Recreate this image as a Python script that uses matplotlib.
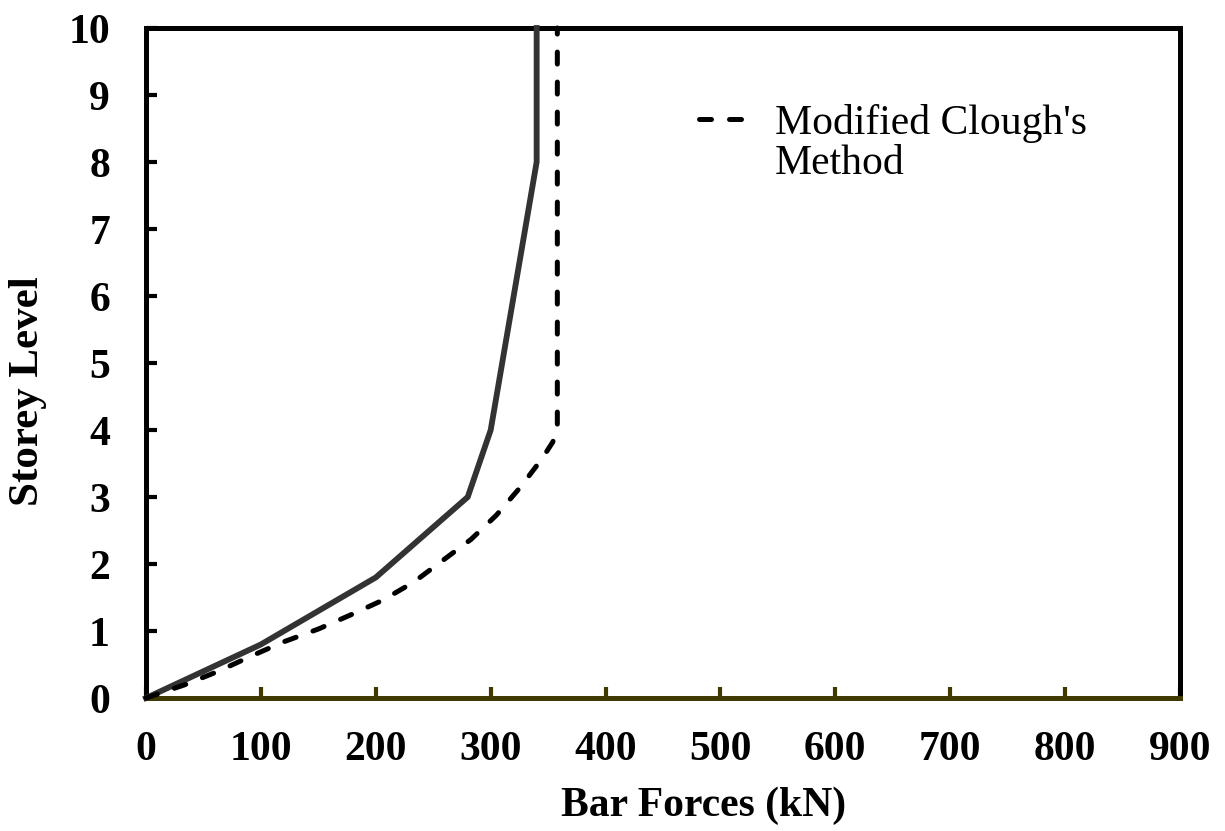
import matplotlib
matplotlib.use("Agg")
import matplotlib.pyplot as plt
from matplotlib.lines import Line2D

# solid curve (no legend entry)
solid_x = [0, 100, 200, 280, 300, 340, 340]
solid_y = [0, 0.8, 1.8, 3.0, 4.0, 8.0, 10.0]

# Modified Clough's Method (dashed)
clough_x = [0, 34, 63, 92, 120, 150, 178, 206, 233, 258, 283, 305, 326, 345, 354, 358, 358]
clough_y = [0, 0.2, 0.4, 0.63, 0.84, 1.03, 1.24, 1.46, 1.73, 2.05, 2.37, 2.73, 3.15, 3.58, 3.82, 4.0, 10.0]

xticks = list(range(0, 901, 100))
yticks = list(range(0, 11))

plt.rcParams['font.family'] = ['Liberation Serif', 'DejaVu Serif']

fig = plt.figure(figsize=(12.25, 8.31), dpi=100)
ax = fig.add_axes([0.1192, 0.160, 0.8441, 0.8063])

ax.plot(solid_x, solid_y, color='#333333', lw=4.2, solid_joinstyle='miter',
        clip_on=False, zorder=5)
ax.plot(clough_x, clough_y, color='black', lw=3.6, ls=(0, (2.4, 3.6)),
        dash_capstyle='round', clip_on=False, zorder=6)

ax.set_xlim(0, 900)
ax.set_ylim(0, 10)
ax.set_xticks(xticks)
ax.set_yticks(yticks)

for s in ['left', 'right', 'top']:
    ax.spines[s].set_linewidth(3.6)
    ax.spines[s].set_color('black')
ax.spines['bottom'].set_linewidth(3.6)
ax.spines['bottom'].set_color('#3f3b00')

ax.tick_params(axis='x', direction='in', length=8, width=3, color='#3f3b00',
               pad=24, labelsize=30)
ax.tick_params(axis='y', direction='in', length=8, width=3, color='black',
               pad=26, labelsize=30)
for lab in ax.get_xticklabels() + ax.get_yticklabels():
    lab.set_fontweight('bold')

ax.set_xlabel('Bar Forces (kN)', fontsize=30, fontweight='bold')
ax.set_ylabel('Storey Level', fontsize=31, fontweight='bold')
ax.xaxis.label.set_va('center')
ax.yaxis.label.set_va('center')
ax.xaxis.set_label_coords(0.539, -0.161)
ax.yaxis.set_label_coords(-0.114, 0.458)

handles = [Line2D([], [], color='black', lw=3.6, ls=(0, (2.4, 3.6)),
                  dash_capstyle='round'),
           Line2D([], [], color='none')]
ax.legend(handles, ["Modified Clough's", 'Method'], loc='upper left',
          bbox_to_anchor=(0.519, 0.912), frameon=False, fontsize=30,
          handlelength=1.37, handletextpad=0.45, labelspacing=0.04,
          borderaxespad=0)

fig.savefig('out.png', dpi=100)
